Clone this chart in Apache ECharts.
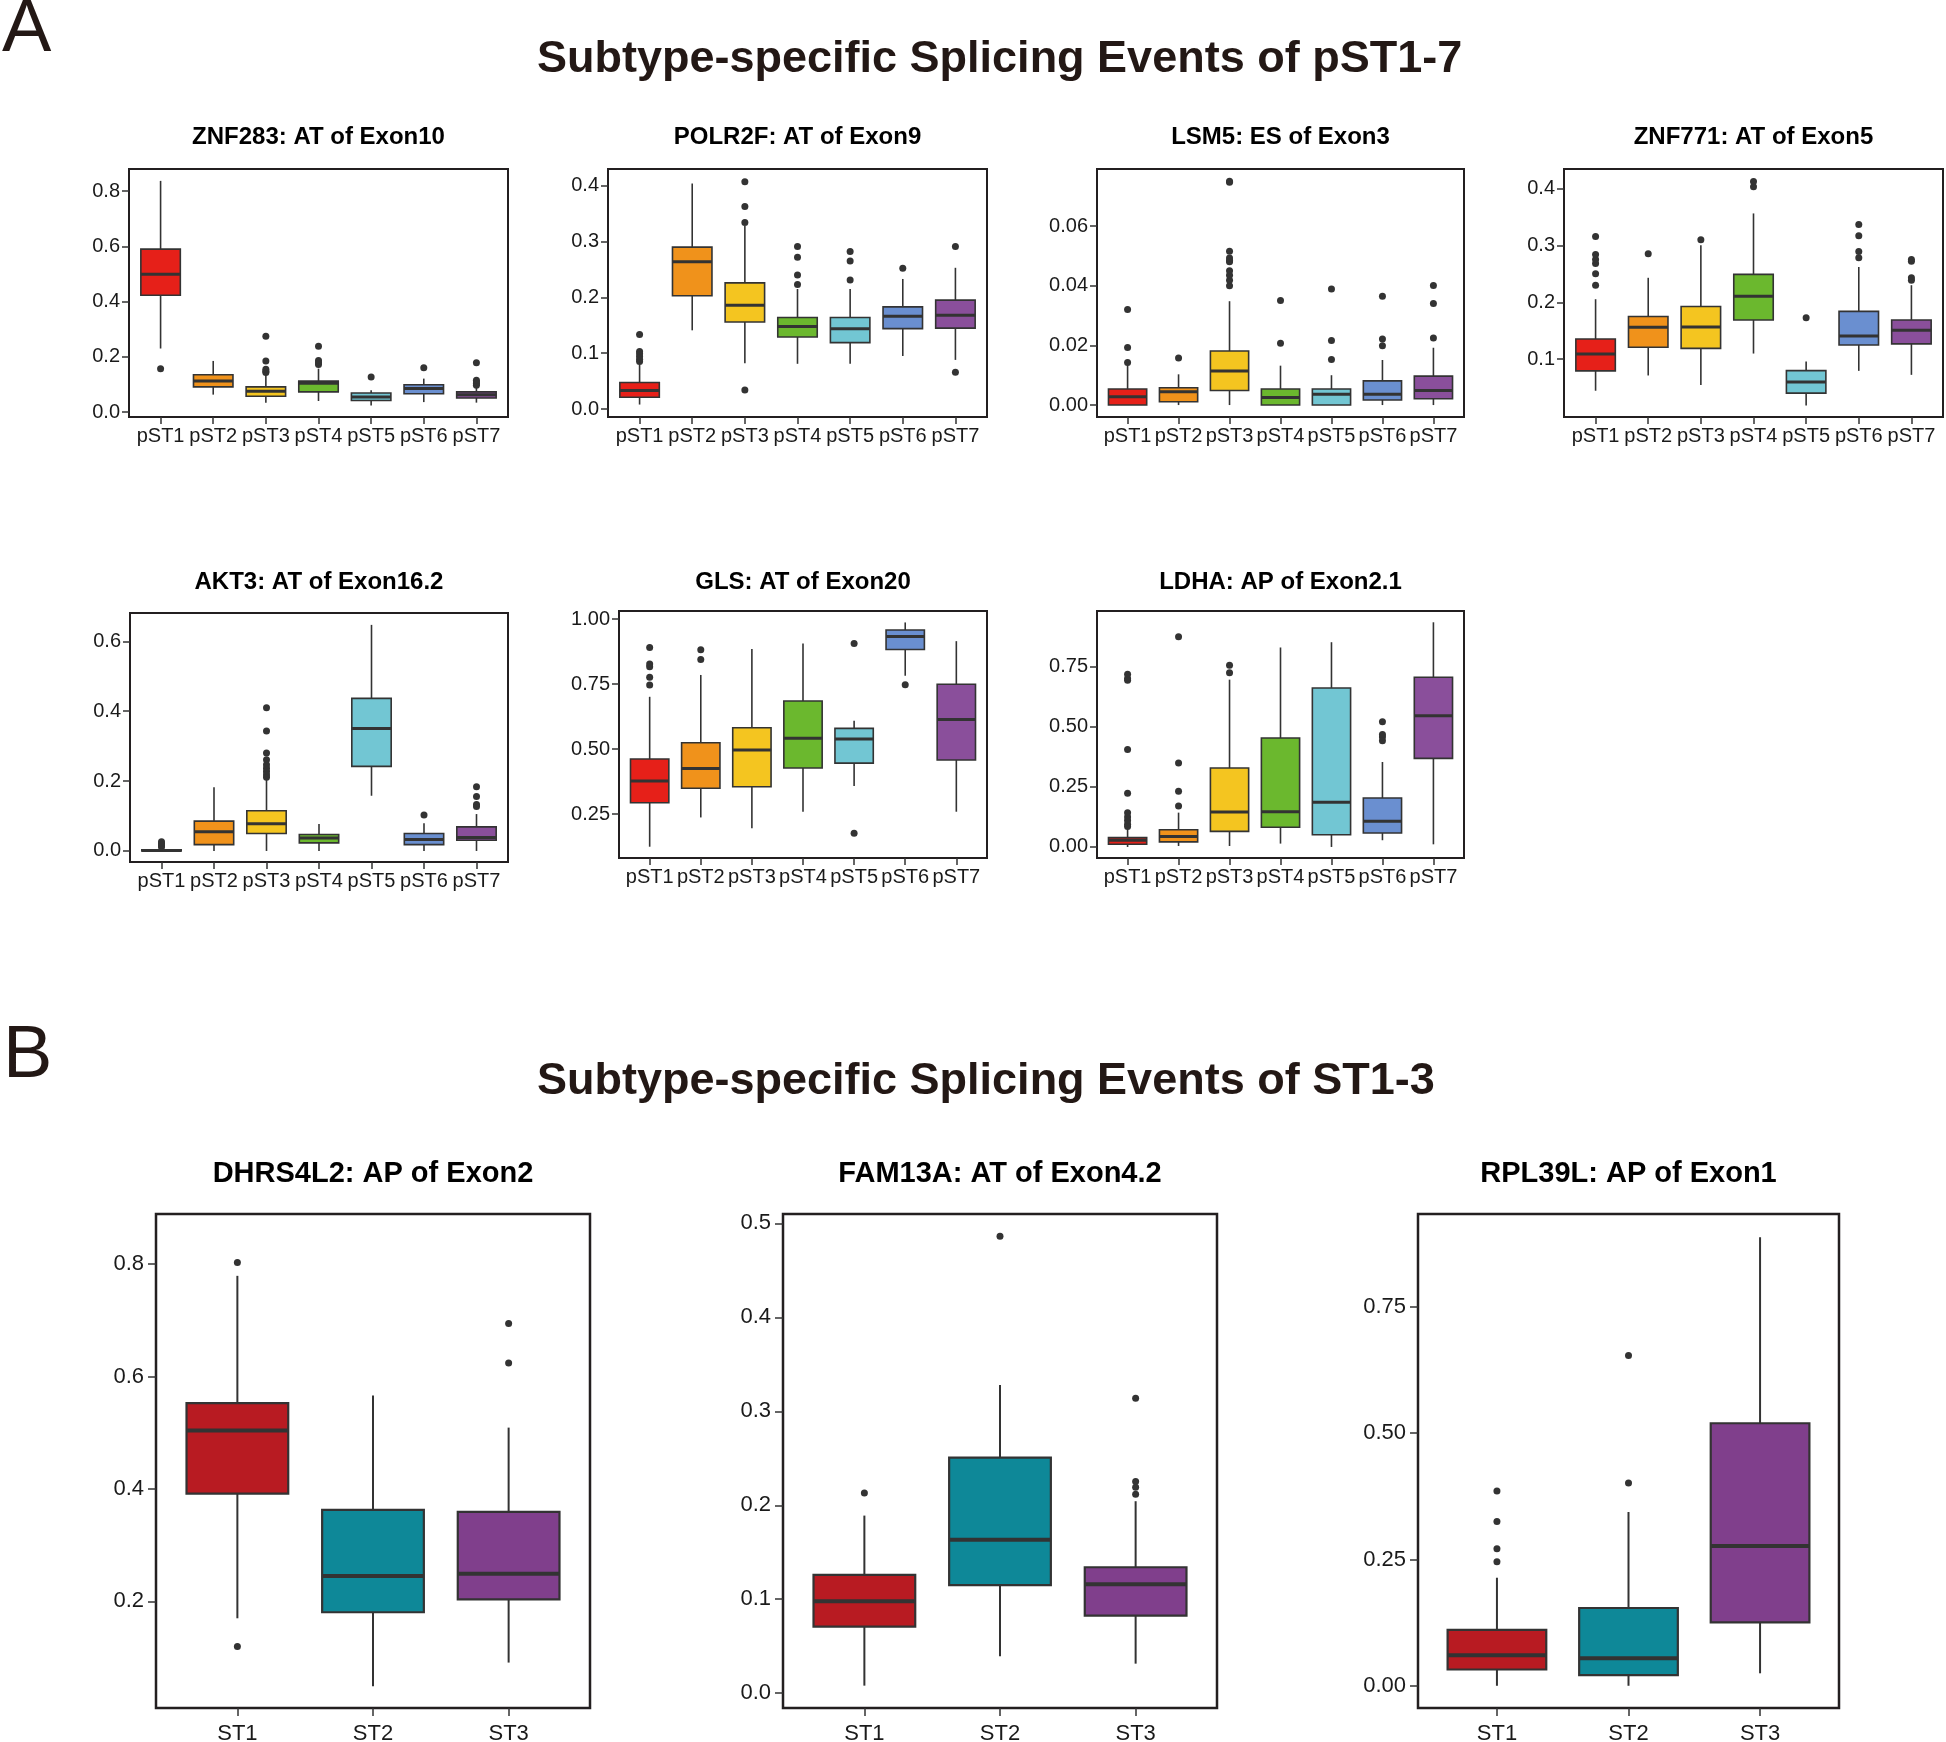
<!DOCTYPE html>
<html>
<head>
<meta charset="utf-8">
<script src="https://cdn.jsdelivr.net/npm/echarts@6/dist/echarts.min.js"></script>
<style>
html,body{margin:0;padding:0;background:#ffffff;}
#chart{width:1946px;height:1742px;}
</style>
</head>
<body>
<div id="chart"></div>
<script>
// ---------------- categories & colours ----------------
const pstCategories = ['pST1', 'pST2', 'pST3', 'pST4', 'pST5', 'pST6', 'pST7'];
const stCategories = ['ST1', 'ST2', 'ST3'];
const pstColors = ['#E62019', '#F0921B', '#F4C520', '#6BB82E', '#72C6D3', '#6A8FD0', '#8A4F9B'];
const stColors = ['#B81B22', '#0E8898', '#803F8C'];

// ---------------- panel titles ----------------
const mainTitleA = 'Subtype-specific Splicing Events of pST1-7';
const mainTitleB = 'Subtype-specific Splicing Events of ST1-3';
const panelTitles = [
  'ZNF283: AT of Exon10', 'POLR2F: AT of Exon9', 'LSM5: ES of Exon3', 'ZNF771: AT of Exon5',
  'AKT3: AT of Exon16.2', 'GLS: AT of Exon20', 'LDHA: AP of Exon2.1',
  'DHRS4L2: AP of Exon2', 'FAM13A: AT of Exon4.2', 'RPL39L: AP of Exon1'
];

// ---------------- box statistics: [lower whisker, Q1, median, Q3, upper whisker] ----------------
const znf283Box = [
  [0.230, 0.423, 0.499, 0.590, 0.837],
  [0.063, 0.091, 0.112, 0.135, 0.185],
  [0.034, 0.057, 0.075, 0.091, 0.135],
  [0.040, 0.073, 0.104, 0.112, 0.157],
  [0.024, 0.042, 0.054, 0.069, 0.079],
  [0.036, 0.066, 0.085, 0.099, 0.121],
  [0.034, 0.051, 0.063, 0.073, 0.094]
];
const znf283Outliers = [[0.157], [], [0.143, 0.148, 0.155, 0.185, 0.274], [0.172, 0.179, 0.187, 0.238], [0.127], [0.160], [0.097, 0.103, 0.109, 0.115, 0.178]];

const polr2fBox = [
  [0.008, 0.021, 0.033, 0.0475, 0.080],
  [0.141, 0.203, 0.264, 0.290, 0.404],
  [0.082, 0.156, 0.186, 0.226, 0.328],
  [0.081, 0.129, 0.148, 0.164, 0.215],
  [0.081, 0.119, 0.144, 0.164, 0.215],
  [0.095, 0.144, 0.166, 0.183, 0.233],
  [0.088, 0.145, 0.168, 0.195, 0.253]
];
const polr2fOutliers = [[0.085, 0.089, 0.094, 0.099, 0.103, 0.1335], [], [0.034, 0.334, 0.363, 0.407], [0.223, 0.240, 0.272, 0.291], [0.231, 0.265, 0.282], [0.252], [0.066, 0.291]];

const lsm5Box = [
  [0, 0, 0.0028, 0.0054, 0.0136],
  [0, 0.0011, 0.0045, 0.0058, 0.0103],
  [0, 0.0049, 0.0114, 0.0181, 0.0348],
  [0, 0, 0.0025, 0.0054, 0.0132],
  [0, 0, 0.0036, 0.0054, 0.0100],
  [0, 0.0017, 0.0036, 0.0081, 0.0151],
  [0, 0.0021, 0.0049, 0.0097, 0.0192]
];
const lsm5Outliers = [[0.0143, 0.0193, 0.032], [0.0158], [0.040, 0.0418, 0.0435, 0.045, 0.048, 0.0484, 0.0493, 0.0515, 0.0747, 0.075], [0.0207, 0.035], [0.0153, 0.0216, 0.0389], [0.0199, 0.0221, 0.0365], [0.0225, 0.034, 0.0401]];

const znf771Box = [
  [0.0447, 0.0796, 0.1093, 0.1355, 0.2054],
  [0.0715, 0.121, 0.156, 0.175, 0.243],
  [0.055, 0.119, 0.1565, 0.1926, 0.300],
  [0.110, 0.169, 0.2107, 0.249, 0.356],
  [0.019, 0.0406, 0.060, 0.080, 0.096],
  [0.0796, 0.125, 0.141, 0.184, 0.262],
  [0.0726, 0.127, 0.1507, 0.169, 0.230]
];
const znf771Outliers = [[0.230, 0.250, 0.268, 0.275, 0.284, 0.3155], [0.285], [0.310], [0.403, 0.412], [0.173], [0.278, 0.289, 0.317, 0.3365], [0.2387, 0.243, 0.272, 0.275]];

const akt3Box = [
  [0, 0, 0.001, 0.003, 0.007],
  [0, 0.018, 0.0547, 0.0854, 0.182],
  [0, 0.050, 0.0778, 0.115, 0.2035],
  [0, 0.023, 0.0374, 0.047, 0.077],
  [0.158, 0.242, 0.3504, 0.4368, 0.647],
  [0, 0.018, 0.0326, 0.050, 0.079],
  [0, 0.0307, 0.0384, 0.069, 0.1056]
];
const akt3Outliers = [[0.0115, 0.016, 0.021, 0.026], [], [0.211, 0.218, 0.2275, 0.237, 0.247, 0.261, 0.280, 0.343, 0.410], [], [], [0.103], [0.127, 0.133, 0.1555, 0.184]];

const glsBox = [
  [0.1244, 0.2936, 0.377, 0.4615, 0.701],
  [0.237, 0.349, 0.4256, 0.524, 0.785],
  [0.195, 0.355, 0.496, 0.582, 0.885],
  [0.259, 0.427, 0.542, 0.6846, 0.906],
  [0.358, 0.446, 0.5385, 0.5795, 0.609],
  [0.782, 0.883, 0.933, 0.958, 0.987],
  [0.259, 0.458, 0.614, 0.749, 0.915]
];
const glsOutliers = [[0.746, 0.776, 0.817, 0.827, 0.891], [0.844, 0.882], [], [], [0.176, 0.906], [0.747], []];

const ldhaBox = [
  [0, 0.011, 0.028, 0.039, 0.075],
  [0.004, 0.021, 0.044, 0.072, 0.143],
  [0.004, 0.065, 0.146, 0.329, 0.697],
  [0.014, 0.082, 0.147, 0.454, 0.831],
  [0, 0.051, 0.186, 0.6625, 0.853],
  [0.028, 0.058, 0.107, 0.204, 0.354],
  [0.011, 0.369, 0.547, 0.707, 0.936]
];
const ldhaOutliers = [[0.085, 0.095, 0.110, 0.125, 0.143, 0.224, 0.406, 0.694, 0.702, 0.719], [0.171, 0.232, 0.350, 0.876], [0.726, 0.757], [], [], [0.442, 0.458, 0.469, 0.522], []];

const dhrs4l2Box = [
  [0.1698, 0.3915, 0.5037, 0.5527, 0.779],
  [0.0488, 0.1805, 0.245, 0.3626, 0.566],
  [0.091, 0.2034, 0.249, 0.359, 0.509]
];
const dhrs4l2Outliers = [[0.1194, 0.8027], [], [0.624, 0.694]];

const fam13aBox = [
  [0.008, 0.0708, 0.0977, 0.1259, 0.189],
  [0.0394, 0.115, 0.1633, 0.2506, 0.328],
  [0.0314, 0.0825, 0.1158, 0.134, 0.2043]
];
const fam13aOutliers = [[0.213], [0.4863], [0.2116, 0.2192, 0.2253, 0.3138]];

const rpl39lBox = [
  [0, 0.0322, 0.0606, 0.1107, 0.2139],
  [0, 0.0209, 0.0546, 0.154, 0.344],
  [0.0247, 0.1256, 0.2767, 0.5197, 0.888]
];
const rpl39lOutliers = [[0.2453, 0.2714, 0.3253, 0.3858], [0.4016, 0.654], []];

// ---------------- y tick labels ----------------
const znf283Ticks = ['0.0', '0.2', '0.4', '0.6', '0.8'];
const polr2fTicks = ['0.0', '0.1', '0.2', '0.3', '0.4'];
const lsm5Ticks = ['0.00', '0.02', '0.04', '0.06'];
const znf771Ticks = ['0.1', '0.2', '0.3', '0.4'];
const akt3Ticks = ['0.0', '0.2', '0.4', '0.6'];
const glsTicks = ['0.25', '0.50', '0.75', '1.00'];
const ldhaTicks = ['0.00', '0.25', '0.50', '0.75'];
const dhrs4l2Ticks = ['0.2', '0.4', '0.6', '0.8'];
const fam13aTicks = ['0.0', '0.1', '0.2', '0.3', '0.4', '0.5'];
const rpl39lTicks = ['0.00', '0.25', '0.50', '0.75'];

// ---------------- y axis ranges ----------------
const yRanges = [
  [-0.018, 0.880], [-0.0143, 0.430], [-0.0040, 0.0791], [-0.0014, 0.434],
  [-0.0316, 0.681], [0.081, 1.031], [-0.046, 0.983],
  [0.0102, 0.889], [-0.0158, 0.510], [-0.044, 0.934]
];

// ---------------- layout (frame boxes, px) ----------------
const frames = [
  [129, 169, 508, 417], [608, 169, 987, 417], [1097, 169, 1464, 417], [1564, 169, 1943, 417],
  [130, 613, 508, 862], [619, 611, 987, 858], [1097, 611, 1464, 858],
  [156, 1214, 590, 1708], [783, 1214, 1217, 1708], [1418, 1214, 1839, 1708]
];
const titleRowY = [137, 137, 137, 137, 582, 582, 582, 1174, 1174, 1174];

const panels = [
  {box: znf283Box, out: znf283Outliers, ticks: znf283Ticks, cats: pstCategories, colors: pstColors},
  {box: polr2fBox, out: polr2fOutliers, ticks: polr2fTicks, cats: pstCategories, colors: pstColors},
  {box: lsm5Box, out: lsm5Outliers, ticks: lsm5Ticks, cats: pstCategories, colors: pstColors},
  {box: znf771Box, out: znf771Outliers, ticks: znf771Ticks, cats: pstCategories, colors: pstColors},
  {box: akt3Box, out: akt3Outliers, ticks: akt3Ticks, cats: pstCategories, colors: pstColors},
  {box: glsBox, out: glsOutliers, ticks: glsTicks, cats: pstCategories, colors: pstColors},
  {box: ldhaBox, out: ldhaOutliers, ticks: ldhaTicks, cats: pstCategories, colors: pstColors},
  {box: dhrs4l2Box, out: dhrs4l2Outliers, ticks: dhrs4l2Ticks, cats: stCategories, colors: stColors},
  {box: fam13aBox, out: fam13aOutliers, ticks: fam13aTicks, cats: stCategories, colors: stColors},
  {box: rpl39lBox, out: rpl39lOutliers, ticks: rpl39lTicks, cats: stCategories, colors: stColors}
];

const FONT = "'Liberation Sans', Arial, Helvetica, sans-serif";

function boxRenderer(colors, st) {
  return function (params, api) {
    const x = api.value(0);
    const ci = api.value(6);
    const pLow = api.coord([x, api.value(1)]);
    const pQ1 = api.coord([x, api.value(2)]);
    const pMed = api.coord([x, api.value(3)]);
    const pQ3 = api.coord([x, api.value(4)]);
    const pHigh = api.coord([x, api.value(5)]);
    const hw = api.size([0.375, 0])[0];
    const cx = pMed[0];
    return {
      type: 'group',
      children: [
        {type: 'line', shape: {x1: cx, y1: pQ3[1], x2: cx, y2: pHigh[1]}, style: {stroke: '#333333', lineWidth: st.whisker}},
        {type: 'line', shape: {x1: cx, y1: pQ1[1], x2: cx, y2: pLow[1]}, style: {stroke: '#333333', lineWidth: st.whisker}},
        {type: 'rect', shape: {x: cx - hw, y: pQ3[1], width: 2 * hw, height: pQ1[1] - pQ3[1]},
          style: {fill: colors[ci], stroke: '#333333', lineWidth: st.box}},
        {type: 'line', shape: {x1: cx - hw, y1: pMed[1], x2: cx + hw, y2: pMed[1]}, style: {stroke: '#333333', lineWidth: st.median}}
      ]
    };
  };
}

const grids = [], xAxes = [], yAxes = [], series = [], graphics = [];

panels.forEach(function (p, i) {
  const f = frames[i];
  const big = i >= 7;
  const n = p.cats.length;
  const st = big ? {whisker: 2, box: 2.2, median: 4, tick: 22, title: 29, sym: 7, frame: 2.5, tickLen: 8, lm: 12, xm: 15}
                 : {whisker: 1.6, box: 1.6, median: 3, tick: 20, title: 24, sym: 7, frame: 2, tickLen: 7, lm: 9, xm: 9};
  grids.push({left: f[0], top: f[1], width: f[2] - f[0], height: f[3] - f[1], show: true,
    borderColor: '#231f20', borderWidth: st.frame, backgroundColor: 'transparent',
    containLabel: false, outerBoundsMode: 'none'});
  const xs = p.cats.map(function (c, k) { return k + 1; });
  xAxes.push({gridIndex: i, type: 'value', min: 0.4, max: n + 0.6, position: 'bottom',
    axisLine: {show: false, onZero: false}, splitLine: {show: false},
    axisTick: {show: true, length: st.tickLen, customValues: xs, lineStyle: {color: '#333333', width: 1.5}},
    axisLabel: {customValues: xs, fontSize: st.tick, fontFamily: FONT, color: '#1a1a1a', margin: st.xm,
      formatter: function (v) { return p.cats[Math.round(v) - 1] || ''; }}
  });
  const tv = p.ticks.map(Number);
  const dec = p.ticks[0].split('.')[1].length;
  yAxes.push({gridIndex: i, type: 'value', min: yRanges[i][0], max: yRanges[i][1], position: 'left',
    axisLine: {show: false, onZero: false}, splitLine: {show: false},
    axisTick: {show: true, length: st.tickLen, customValues: tv, lineStyle: {color: '#333333', width: 1.5}},
    axisLabel: {customValues: tv, fontSize: st.tick, fontFamily: FONT, color: '#1a1a1a', margin: st.lm,
      formatter: function (v) { return Number(v).toFixed(dec); }}
  });
  series.push({
    type: 'custom', xAxisIndex: i, yAxisIndex: i,
    renderItem: boxRenderer(p.colors, st),
    encode: {x: 0, y: [1, 2, 3, 4, 5]},
    data: p.box.map(function (b, k) { return [k + 1, b[0], b[1], b[2], b[3], b[4], k]; }),
    silent: true, z: 2
  });
  const pts = [];
  p.out.forEach(function (arr, k) { arr.forEach(function (v) { pts.push([k + 1, v]); }); });
  series.push({
    type: 'scatter', xAxisIndex: i, yAxisIndex: i, data: pts, symbolSize: st.sym,
    itemStyle: {color: '#333333', opacity: 1}, silent: true, z: 3
  });
  graphics.push({type: 'text', x: (f[0] + f[2]) / 2, y: titleRowY[i],
    style: {text: panelTitles[i], fontSize: st.title, fontWeight: 'bold', fontFamily: FONT, fill: '#000000',
      textAlign: 'center', textVerticalAlign: 'middle'}});
});

graphics.push({type: 'text', x: 2, y: 31, style: {text: 'A', fontSize: 74, fontFamily: FONT, fill: '#231815', textAlign: 'left', textVerticalAlign: 'middle'}});
graphics.push({type: 'text', x: 3, y: 1057, style: {text: 'B', fontSize: 74, fontFamily: FONT, fill: '#231815', textAlign: 'left', textVerticalAlign: 'middle'}});
graphics.push({type: 'text', x: 537, y: 60, style: {text: mainTitleA, fontSize: 45, fontWeight: 'bold', fontFamily: FONT, fill: '#231815', textAlign: 'left', textVerticalAlign: 'middle'}});
graphics.push({type: 'text', x: 537, y: 1082, style: {text: mainTitleB, fontSize: 45, fontWeight: 'bold', fontFamily: FONT, fill: '#231815', textAlign: 'left', textVerticalAlign: 'middle'}});

const chart = echarts.init(document.getElementById('chart'), null, {renderer: 'canvas', width: 1946, height: 1742});
chart.setOption({
  backgroundColor: '#ffffff',
  animation: false,
  grid: grids,
  xAxis: xAxes,
  yAxis: yAxes,
  series: series,
  graphic: graphics
});
</script>
</body>
</html>
